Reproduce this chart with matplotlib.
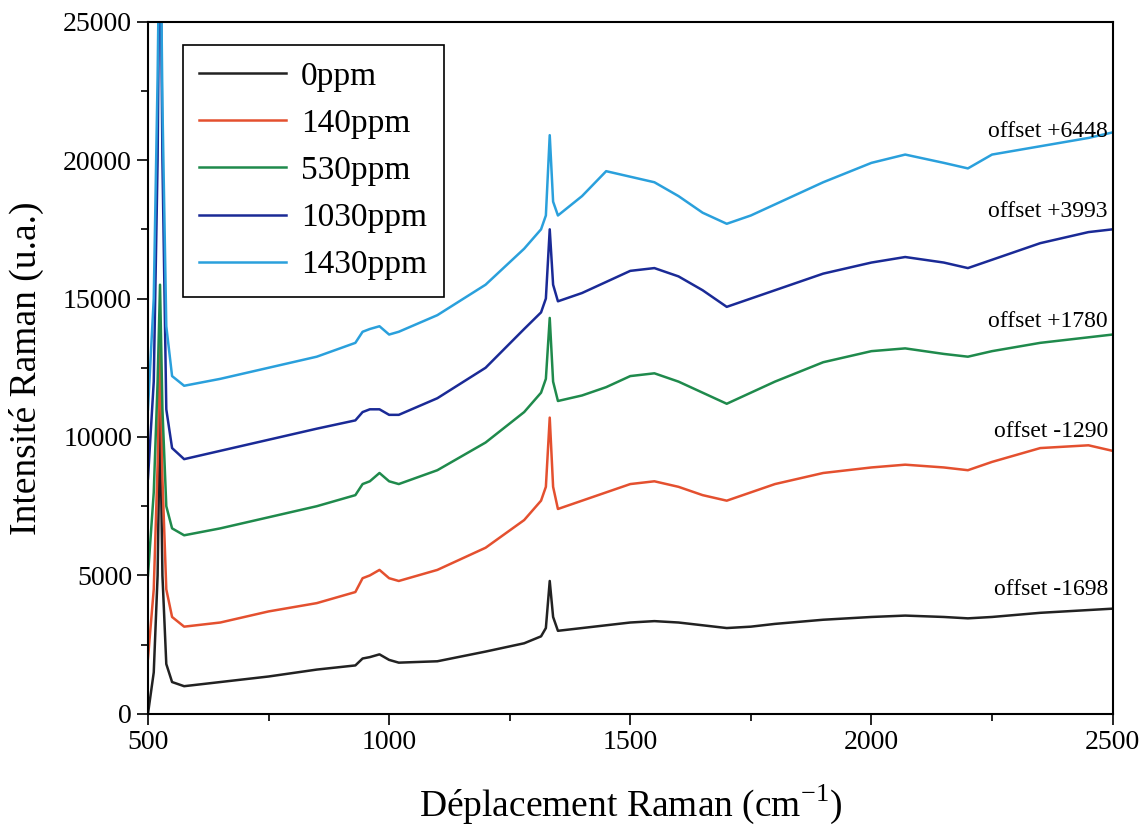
import numpy as np
import matplotlib
matplotlib.use('Agg')
import matplotlib.pyplot as plt
from matplotlib.ticker import MultipleLocator

plt.rcParams['font.family'] = ['Liberation Serif', 'DejaVu Serif']
plt.rcParams['mathtext.fontset'] = 'custom'
plt.rcParams['mathtext.rm'] = 'Liberation Serif'

# Raman shift (cm-1)
shift = [500, 512, 520, 525, 530, 538, 550, 575, 650, 750, 850, 930, 945, 960, 980,
         1000, 1020, 1100, 1200, 1280, 1315, 1325, 1333, 1340, 1350, 1400, 1450, 1500,
         1550, 1600, 1650, 1700, 1750, 1800, 1900, 2000, 2070, 2150, 2200, 2250, 2350,
         2450, 2500]

# intensities (offset already applied)
i_0ppm = [0, 1500, 5000, 11000, 5000, 1800, 1150, 1000, 1150, 1350, 1600, 1750, 2000,
          2050, 2150, 1950, 1850, 1900, 2250, 2550, 2800, 3100, 4800, 3500, 3000, 3100,
          3200, 3300, 3350, 3300, 3200, 3100, 3150, 3250, 3400, 3500, 3550, 3500, 3450,
          3500, 3650, 3750, 3800]
i_140ppm = [2000, 4500, 9000, 13500, 8500, 4500, 3500, 3150, 3300, 3700, 4000, 4400, 4900,
            5000, 5200, 4900, 4800, 5200, 6000, 7000, 7700, 8200, 10700, 8200, 7400, 7700,
            8000, 8300, 8400, 8200, 7900, 7700, 8000, 8300, 8700, 8900, 9000, 8900, 8800,
            9100, 9600, 9700, 9500]
i_530ppm = [5000, 8000, 12000, 15500, 11000, 7500, 6700, 6450, 6700, 7100, 7500, 7900, 8300,
            8400, 8700, 8400, 8300, 8800, 9800, 10900, 11600, 12100, 14300, 12000, 11300,
            11500, 11800, 12200, 12300, 12000, 11600, 11200, 11600, 12000, 12700, 13100,
            13200, 13000, 12900, 13100, 13400, 13600, 13700]
i_1030ppm = [8500, 12000, 20000, 30000, 20000, 11000, 9600, 9200, 9500, 9900, 10300, 10600,
             10900, 11000, 11000, 10800, 10800, 11400, 12500, 13900, 14500, 15000, 17500,
             15500, 14900, 15200, 15600, 16000, 16100, 15800, 15300, 14700, 15000, 15300,
             15900, 16300, 16500, 16300, 16100, 16400, 17000, 17400, 17500]
i_1430ppm = [11000, 15000, 23000, 30000, 22000, 14000, 12200, 11850, 12100, 12500, 12900,
             13400, 13800, 13900, 14000, 13700, 13800, 14400, 15500, 16800, 17500, 18000,
             20900, 18500, 18000, 18700, 19600, 19400, 19200, 18700, 18100, 17700, 18000,
             18400, 19200, 19900, 20200, 19900, 19700, 20200, 20500, 20800, 21000]

labels = ['0ppm', '140ppm', '530ppm', '1030ppm', '1430ppm']
colors = ['#222222', '#e4502f', '#1f8a4c', '#1a2a96', '#2aa0dc']
offsets = ['offset -1698', 'offset -1290', 'offset +1780', 'offset +3993', 'offset +6448']
offset_y = [4480, 10190, 14160, 18140, 21030]

fig = plt.figure(figsize=(11.47, 8.33), dpi=100)
ax = fig.add_axes([0.129, 0.143, 0.841, 0.831])

series = [i_0ppm, i_140ppm, i_530ppm, i_1030ppm, i_1430ppm]
for y, lab, c in zip(series, labels, colors):
    ax.plot(shift, y, color=c, lw=1.8, label=lab)

for txt, yy in zip(offsets, offset_y):
    ax.text(2490, yy, txt, ha='right', va='center', fontsize=17)

ax.set_xlim(500, 2500)
ax.set_ylim(0, 25000)
ax.xaxis.set_major_locator(MultipleLocator(500))
ax.xaxis.set_minor_locator(MultipleLocator(250))
ax.yaxis.set_major_locator(MultipleLocator(5000))
ax.yaxis.set_minor_locator(MultipleLocator(2500))
ax.tick_params(which='major', direction='out', length=8, width=1.2, labelsize=20,
               top=False, right=False)
ax.tick_params(which='minor', direction='out', length=5, width=1.2, top=False, right=False)
for s in ax.spines.values():
    s.set_linewidth(1.5)

ax.set_xlabel(r'Déplacement Raman (cm$^{\mathregular{-1}}$)', fontsize=27, labelpad=20)
ax.set_ylabel('Intensité Raman (u.a.)', fontsize=27, labelpad=14)

leg = ax.legend(loc='upper left', bbox_to_anchor=(0.036, 0.967), borderaxespad=0,
                fontsize=24, handlelength=2.6, handletextpad=0.45, labelspacing=0.5,
                borderpad=0.5, fancybox=False, edgecolor='black', framealpha=1)
leg.get_frame().set_linewidth(1.2)

fig.savefig('out.png', dpi=100)
